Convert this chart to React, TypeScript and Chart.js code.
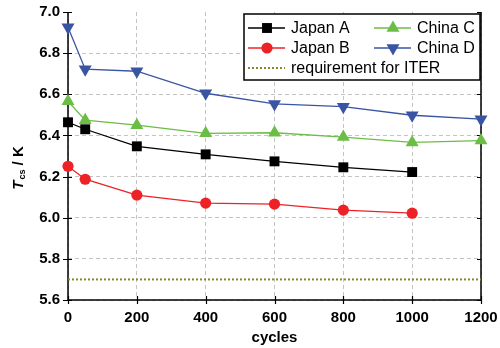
import React, { useEffect, useRef } from 'react';
import { Chart, registerables } from 'chart.js';

Chart.register(...registerables);

// ---- data ----
const cyclesJapan = [0, 50, 200, 400, 600, 800, 1000];
const cyclesChina = [0, 50, 200, 400, 600, 800, 1000, 1200];
const japanA = [6.464, 6.43, 6.347, 6.308, 6.274, 6.245, 6.222];
const japanB = [6.25, 6.187, 6.11, 6.071, 6.066, 6.037, 6.022];
const chinaC = [6.566, 6.474, 6.45, 6.41, 6.413, 6.392, 6.366, 6.375];
const chinaD = [6.926, 6.722, 6.712, 6.605, 6.553, 6.54, 6.498, 6.479];
const iterCycles = [0, 1200];
const iterValue = [5.7, 5.7];
const seriesLabels = ['Japan A', 'Japan B', 'China C', 'China D', 'requirement for ITER'];
const xRange = [0, 1200];
const yRange = [5.6, 7.0];
const xStep = 200;
const yStep = 0.2;

const FONT = "Arial, 'Liberation Sans', sans-serif";
const C_BLACK = '#000000';
const C_RED = '#ec2227';
const C_GREEN = '#6cbd45';
const C_BLUE = '#3a54a4';
const C_OLIVE = '#878a2c';

const pts = (xs: number[], ys: number[]) => xs.map((x, i) => ({ x, y: ys[i] }));

function drawMarker(ctx: CanvasRenderingContext2D, style: string, rot: number, x: number, y: number, r: number, color: string) {
  ctx.fillStyle = color;
  ctx.beginPath();
  if (style === 'rect') {
    const s = r * Math.SQRT1_2;
    ctx.rect(x - s, y - s, 2 * s, 2 * s);
  } else if (style === 'circle') {
    ctx.arc(x, y, r, 0, Math.PI * 2);
  } else if (style === 'triangle') {
    let a = (rot * Math.PI) / 180;
    ctx.moveTo(x + Math.sin(a) * r, y - Math.cos(a) * r);
    a += (2 * Math.PI) / 3;
    ctx.lineTo(x + Math.sin(a) * r, y - Math.cos(a) * r);
    a += (2 * Math.PI) / 3;
    ctx.lineTo(x + Math.sin(a) * r, y - Math.cos(a) * r);
    ctx.closePath();
  }
  ctx.fill();
}

const framePlugin = {
  id: 'frame',
  beforeDatasetsDraw(chart: any) {
    const { ctx, chartArea: a, scales } = chart;
    ctx.save();
    ctx.strokeStyle = '#000';
    ctx.lineWidth = 1.5;
    ctx.setLineDash([]);
    ctx.beginPath();
    ctx.moveTo(a.left, a.top);
    ctx.lineTo(a.left, a.bottom);
    ctx.lineTo(a.right, a.bottom);
    ctx.lineTo(a.right, a.top);
    ctx.stroke();
    ctx.lineWidth = 1.2;
    ctx.beginPath();
    scales.y.ticks.forEach((t: any) => {
      const py = Math.round(scales.y.getPixelForValue(t.value)) + 0.5;
      ctx.moveTo(a.left - 5, py);
      ctx.lineTo(a.left + 4, py);
      ctx.moveTo(a.right - 4, py);
      ctx.lineTo(a.right, py);
    });
    scales.x.ticks.forEach((t: any) => {
      const px = Math.round(scales.x.getPixelForValue(t.value)) + 0.5;
      ctx.moveTo(px, a.bottom - 4);
      ctx.lineTo(px, a.bottom + 4);
    });
    ctx.stroke();
    ctx.restore();
  },
  afterDatasetsDraw(chart: any) {
    const { ctx, chartArea: a } = chart;
    const ds = chart.data.datasets;
    const right = a.right - 1;
    const left = right - 236;
    const top = a.top + 2;
    const h = 66;
    ctx.save();
    ctx.fillStyle = '#fff';
    ctx.fillRect(left, top, right - left, h);
    ctx.strokeStyle = '#000';
    ctx.lineWidth = 1.5;
    ctx.strokeRect(left, top, right - left, h);
    ctx.font = `16px ${FONT}`;
    ctx.textBaseline = 'middle';
    ctx.textAlign = 'left';
    const cols = [left + 4, left + 130];
    const rows = [top + 14, top + 34, top + 54];
    const place = [
      [0, 0],
      [0, 1],
      [1, 0],
      [1, 1],
      [0, 2],
    ];
    ds.forEach((d: any, i: number) => {
      const x0 = cols[place[i][0]];
      const y = rows[place[i][1]];
      ctx.strokeStyle = d.borderColor;
      ctx.lineWidth = d.borderWidth;
      ctx.setLineDash(d.borderDash || []);
      ctx.beginPath();
      ctx.moveTo(x0, y);
      ctx.lineTo(x0 + 37, y);
      ctx.stroke();
      ctx.setLineDash([]);
      if (d.pointRadius > 0) {
        drawMarker(ctx, d.pointStyle, d.pointRotation || 0, x0 + 19, y, d.pointRadius, d.pointBackgroundColor);
      }
      ctx.fillStyle = '#000';
      ctx.fillText(d.label, x0 + 43, y + 1);
    });
    ctx.restore();
  },
  afterDraw(chart: any) {
    const { ctx, chartArea: a } = chart;
    ctx.save();
    const cy = (a.top + a.bottom) / 2 + 12;
    ctx.translate(23, cy);
    ctx.rotate(-Math.PI / 2);
    ctx.fillStyle = '#000';
    ctx.textBaseline = 'alphabetic';
    const fT = `italic bold 15px ${FONT}`;
    const fS = `bold 9px ${FONT}`;
    const fM = `bold 15px ${FONT}`;
    ctx.font = fT;
    const wT = ctx.measureText('T').width;
    ctx.font = fS;
    const wS = ctx.measureText('cs').width;
    ctx.font = fM;
    const wM = ctx.measureText(' / K').width;
    const total = wT + wS + 1 + wM;
    let x = -total / 2;
    ctx.font = fT;
    ctx.fillText('T', x, 0);
    x += wT + 1;
    ctx.font = fS;
    ctx.fillText('cs', x, 2);
    x += wS;
    ctx.font = fM;
    ctx.fillText(' / K', x, 0);
    ctx.restore();
  },
};

export default function App() {
  const ref = useRef<HTMLCanvasElement>(null);
  useEffect(() => {
    if (!ref.current) return;
    const tickFont = { family: FONT, size: 15, weight: 'bold' as const };
    const chart = new Chart(ref.current, {
      type: 'line',
      data: {
        datasets: [
          {
            label: seriesLabels[0],
            data: pts(cyclesJapan, japanA),
            borderColor: C_BLACK,
            backgroundColor: C_BLACK,
            pointBackgroundColor: C_BLACK,
            borderWidth: 1.3,
            pointStyle: 'rect',
            pointRadius: 7,
            pointBorderWidth: 0,
            clip: false,
          },
          {
            label: seriesLabels[1],
            data: pts(cyclesJapan, japanB),
            borderColor: C_RED,
            backgroundColor: C_RED,
            pointBackgroundColor: C_RED,
            borderWidth: 1.3,
            pointStyle: 'circle',
            pointRadius: 5.6,
            pointBorderWidth: 0,
            clip: false,
          },
          {
            label: seriesLabels[2],
            data: pts(cyclesChina, chinaC),
            borderColor: C_GREEN,
            backgroundColor: C_GREEN,
            pointBackgroundColor: C_GREEN,
            borderWidth: 1.3,
            pointStyle: 'triangle',
            pointRadius: 7.5,
            pointBorderWidth: 0,
            clip: false,
          },
          {
            label: seriesLabels[3],
            data: pts(cyclesChina, chinaD),
            borderColor: C_BLUE,
            backgroundColor: C_BLUE,
            pointBackgroundColor: C_BLUE,
            borderWidth: 1.3,
            pointStyle: 'triangle',
            pointRotation: 180,
            pointRadius: 7.5,
            pointBorderWidth: 0,
            clip: false,
          },
          {
            label: seriesLabels[4],
            data: pts(iterCycles, iterValue),
            borderColor: C_OLIVE,
            backgroundColor: C_OLIVE,
            pointBackgroundColor: C_OLIVE,
            borderWidth: 2,
            borderDash: [2, 2],
            pointRadius: 0,
            clip: false,
          },
        ] as any,
      },
      options: {
        responsive: false,
        animation: false,
        layout: { padding: { top: 12, right: 19, left: 0, bottom: 0 } },
        plugins: { legend: { display: false }, tooltip: { enabled: false } },
        scales: {
          x: {
            type: 'linear',
            min: xRange[0],
            max: xRange[1],
            ticks: {
              stepSize: xStep,
              color: '#000',
              font: tickFont,
              padding: 9,
              maxRotation: 0,
              callback: (v: any) => String(v),
            },
            grid: { color: '#c4c4c4', lineWidth: 1, drawTicks: false },
            border: { display: false, dash: [4, 3] },
            title: {
              display: true,
              text: 'cycles',
              color: '#000',
              font: tickFont,
              padding: { top: 0, bottom: 1 },
            },
            afterFit: (s: any) => {
              s.height = 48;
              s.paddingRight = 0;
              s.paddingLeft = 0;
            },
          },
          y: {
            type: 'linear',
            min: yRange[0],
            max: yRange[1],
            ticks: {
              stepSize: yStep,
              color: '#000',
              font: tickFont,
              padding: 8,
              callback: (v: any) => Number(v).toFixed(1),
            },
            grid: {
              color: (c: any) => (Math.abs(c.tick.value - yRange[1]) < 1e-6 ? 'rgba(0,0,0,0)' : '#c4c4c4'),
              lineWidth: 1,
              drawTicks: false,
            },
            border: { display: false, dash: [4, 3] },
            afterFit: (s: any) => {
              s.width = 68;
              s.paddingTop = 0;
              s.paddingBottom = 0;
            },
          },
        },
      } as any,
      plugins: [framePlugin],
    });
    return () => chart.destroy();
  }, []);
  return (
    <div style={{ position: 'absolute', left: 0, top: 0, width: 500, height: 348, background: '#fff' }}>
      <canvas ref={ref} width={500} height={348} style={{ display: 'block' }} />
    </div>
  );
}
